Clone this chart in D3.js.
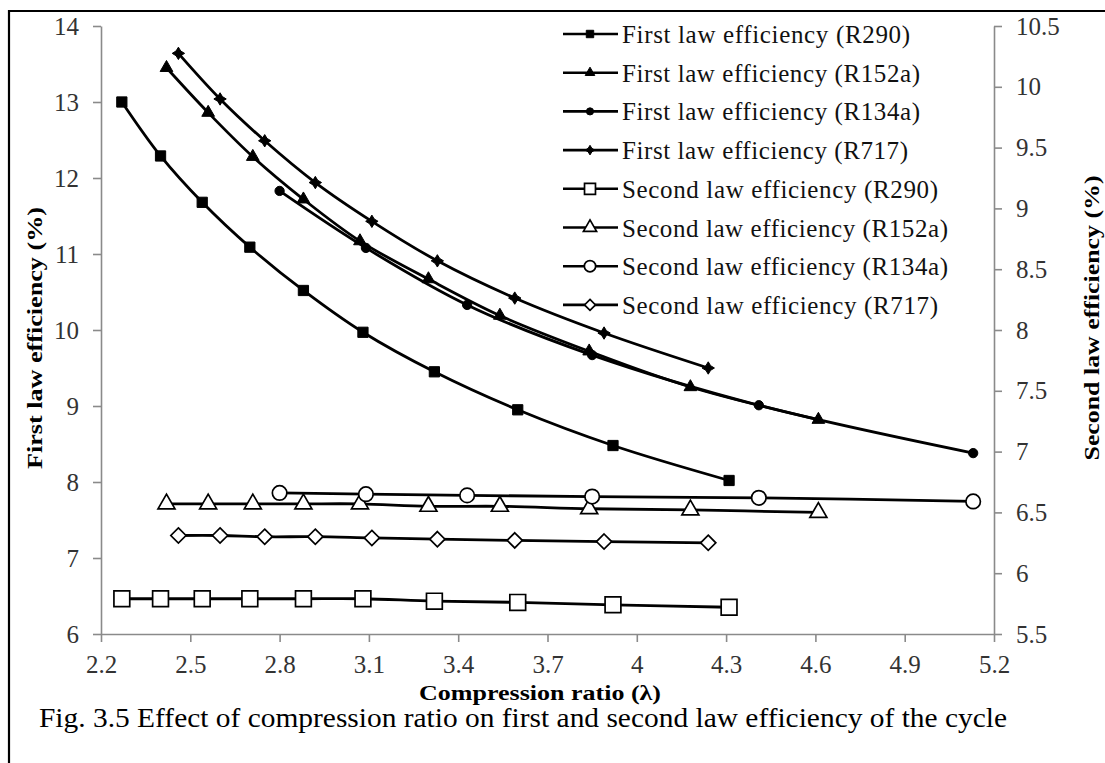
<!DOCTYPE html>
<html>
<head>
<meta charset="utf-8">
<script src="https://cdn.jsdelivr.net/npm/d3@7"></script>
<style>
  html, body { margin: 0; padding: 0; background: #fff; }
  svg { display: block; }
</style>
</head>
<body>
<svg id="chart" width="1105" height="763"></svg>
<script>
// Compression ratio (λ) for each refrigerant
const lambdaR290  = [2.27, 2.40, 2.54, 2.70, 2.88, 3.08, 3.32, 3.60, 3.92, 4.31];
const lambdaR152a = [2.42, 2.56, 2.71, 2.88, 3.07, 3.30, 3.54, 3.84, 4.18, 4.61];
const lambdaR134a = [2.80, 3.09, 3.43, 3.85, 4.41, 5.13];
const lambdaR717  = [2.46, 2.60, 2.75, 2.92, 3.11, 3.33, 3.59, 3.89, 4.24];

// First law efficiency (%), left axis
const firstR290  = [13.00, 12.29, 11.68, 11.09, 10.52, 9.97, 9.45, 8.95, 8.48, 8.02];
const firstR152a = [13.45, 12.86, 12.28, 11.72, 11.17, 10.67, 10.19, 9.72, 9.25, 8.82];
const firstR134a = [11.83, 11.08, 10.33, 9.67, 9.01, 8.38];
const firstR717  = [13.64, 13.04, 12.49, 11.94, 11.43, 10.91, 10.42, 9.96, 9.50];

// Second law efficiency (%), right axis
const secondR290  = [5.79, 5.79, 5.79, 5.79, 5.79, 5.79, 5.77, 5.76, 5.74, 5.72];
const secondR152a = [6.57, 6.57, 6.57, 6.57, 6.57, 6.55, 6.55, 6.53, 6.52, 6.50];
const secondR134a = [6.66, 6.65, 6.64, 6.63, 6.62, 6.59];
const secondR717  = [6.31, 6.31, 6.30, 6.30, 6.29, 6.28, 6.27, 6.26, 6.25];

// Axis ticks
const xTicks = [2.2, 2.5, 2.8, 3.1, 3.4, 3.7, 4.0, 4.3, 4.6, 4.9, 5.2];
const yLeftTicks = [6, 7, 8, 9, 10, 11, 12, 13, 14];
const yRightTicks = [5.5, 6, 6.5, 7, 7.5, 8, 8.5, 9, 9.5, 10, 10.5];

const seriesNames = [
  "First law efficiency (R290)",
  "First law efficiency (R152a)",
  "First law efficiency (R134a)",
  "First law efficiency (R717)",
  "Second law efficiency (R290)",
  "Second law efficiency (R152a)",
  "Second law efficiency (R134a)",
  "Second law efficiency (R717)"
];

const SERIF = "'Liberation Serif', 'Times New Roman', serif";
const svg = d3.select("#chart");

const x  = d3.scaleLinear().domain([2.2, 5.2]).range([101, 994]);
const yL = d3.scaleLinear().domain([6, 14]).range([634, 26]);
const yR = d3.scaleLinear().domain([5.5, 10.5]).range([634, 26]);

// Frame around the figure
svg.append("line").attr("x1", 9).attr("x2", 1105).attr("y1", 11).attr("y2", 11)
  .attr("stroke", "#000").attr("stroke-width", 2.2);
svg.append("line").attr("x1", 9).attr("x2", 9).attr("y1", 10).attr("y2", 763)
  .attr("stroke", "#000").attr("stroke-width", 2.2);

const axisColor = "#8a8a8a";
const labelColor = "#333";

function styleAxis(g) {
  g.attr("font-family", SERIF).attr("font-size", 25);
  g.selectAll(".domain").attr("stroke", axisColor).attr("stroke-width", 1.6);
  g.selectAll(".tick line").attr("stroke", axisColor).attr("stroke-width", 1.6);
  g.selectAll(".tick text").attr("fill", labelColor);
}

const gx = svg.append("g").attr("transform", "translate(0,634)")
  .call(d3.axisBottom(x).tickValues(xTicks).tickSize(8).tickSizeOuter(0).tickPadding(13)
    .tickFormat(d => String(+d.toFixed(1))));
styleAxis(gx);

const gl = svg.append("g").attr("transform", "translate(101,0)")
  .call(d3.axisLeft(yL).tickValues(yLeftTicks).tickSize(8).tickSizeOuter(0).tickPadding(14));
styleAxis(gl);

const gr = svg.append("g").attr("transform", "translate(994,0)")
  .call(d3.axisRight(yR).tickValues(yRightTicks).tickSize(8).tickSizeOuter(0).tickPadding(14)
    .tickFormat(d => String(d)));
styleAxis(gr);

// Axis titles
function title(sel, txt, len) {
  return sel.append("text").attr("text-anchor", "middle").attr("font-family", SERIF)
    .attr("font-weight", "bold").attr("font-size", 22)
    .attr("textLength", len).attr("lengthAdjust", "spacingAndGlyphs").text(txt);
}
title(svg, "First law efficiency (%)", 262).attr("transform", "translate(42,338) rotate(-90)");
title(svg, "Second law efficiency (%)", 285).attr("transform", "translate(1099,318) rotate(-90)");
title(svg, "Compression ratio (λ)", 242).attr("x", 540).attr("y", 700);

// Figure caption
svg.append("text").attr("x", 39).attr("y", 727).attr("font-family", SERIF).attr("font-size", 27)
  .attr("textLength", 968).attr("lengthAdjust", "spacingAndGlyphs")
  .text("Fig. 3.5 Effect of compression ratio on first and second law efficiency of the cycle");

// Custom marker shapes
const symbolRhombus = {
  draw(ctx, size) {
    const r = Math.sqrt(size / 2);
    ctx.moveTo(0, -r); ctx.lineTo(r, 0); ctx.lineTo(0, r); ctx.lineTo(-r, 0); ctx.closePath();
  }
};
const symbolStar4 = {
  draw(ctx, size) {
    const r = Math.sqrt(size) * 0.8, q = r * 0.38;
    ctx.moveTo(0, -r); ctx.lineTo(q, -q); ctx.lineTo(r, 0); ctx.lineTo(q, q);
    ctx.lineTo(0, r); ctx.lineTo(-q, q); ctx.lineTo(-r, 0); ctx.lineTo(-q, -q); ctx.closePath();
  }
};

const markers = [
  { type: d3.symbolSquare,   size: 105, fill: "#000", sw: 1,   lsize: 55 },
  { type: d3.symbolTriangle, size: 70,  fill: "#000", sw: 1,   lsize: 40 },
  { type: d3.symbolCircle,   size: 68,  fill: "#000", sw: 1,   lsize: 40 },
  { type: symbolStar4,       size: 60,  fill: "#000", sw: 1,   lsize: 36 },
  { type: d3.symbolSquare,   size: 250, fill: "#fff", sw: 1.7, lsize: 120 },
  { type: d3.symbolTriangle, size: 125, fill: "#fff", sw: 1.7, lsize: 75 },
  { type: d3.symbolCircle,   size: 165, fill: "#fff", sw: 1.7, lsize: 100 },
  { type: symbolRhombus,     size: 115, fill: "#fff", sw: 1.7, lsize: 60 }
];

const series = [
  { xs: lambdaR290,  ys: firstR290,   scale: yL },
  { xs: lambdaR152a, ys: firstR152a,  scale: yL },
  { xs: lambdaR134a, ys: firstR134a,  scale: yL },
  { xs: lambdaR717,  ys: firstR717,   scale: yL },
  { xs: lambdaR290,  ys: secondR290,  scale: yR },
  { xs: lambdaR152a, ys: secondR152a, scale: yR },
  { xs: lambdaR134a, ys: secondR134a, scale: yR },
  { xs: lambdaR717,  ys: secondR717,  scale: yR }
];

const plot = svg.append("g");
series.forEach((s, i) => {
  const pts = s.xs.map((v, k) => [v, s.ys[k]]);
  const line = d3.line().x(d => x(d[0])).y(d => s.scale(d[1])).curve(d3.curveCatmullRom.alpha(0.5));
  plot.append("path").datum(pts).attr("d", line)
    .attr("fill", "none").attr("stroke", "#000").attr("stroke-width", 2.8);
  const m = markers[i];
  plot.selectAll(null).data(pts).enter().append("path")
    .attr("transform", d => `translate(${x(d[0])},${s.scale(d[1])})`)
    .attr("d", d3.symbol().type(m.type).size(m.size))
    .attr("fill", m.fill).attr("stroke", "#000").attr("stroke-width", m.sw);
});

// Legend: line + marker swatch, then label stretched to the row's width
const legendTextWidths = [288, 298, 298, 286, 316, 326, 326, 316];
const legend = svg.append("g");
seriesNames.forEach((name, i) => {
  const cy = 34 + i * 38.7;
  const m = markers[i];
  legend.append("line").attr("x1", 563).attr("x2", 618).attr("y1", cy).attr("y2", cy)
    .attr("stroke", "#000").attr("stroke-width", 2.6);
  legend.append("path").attr("transform", `translate(590,${cy})`)
    .attr("d", d3.symbol().type(m.type).size(m.lsize))
    .attr("fill", m.fill).attr("stroke", "#000").attr("stroke-width", m.sw);
  legend.append("text").attr("x", 622).attr("y", cy + 9).attr("font-family", SERIF)
    .attr("font-size", 25).attr("fill", "#111")
    .attr("textLength", legendTextWidths[i]).attr("lengthAdjust", "spacing")
    .text(name);
});
</script>
</body>
</html>
